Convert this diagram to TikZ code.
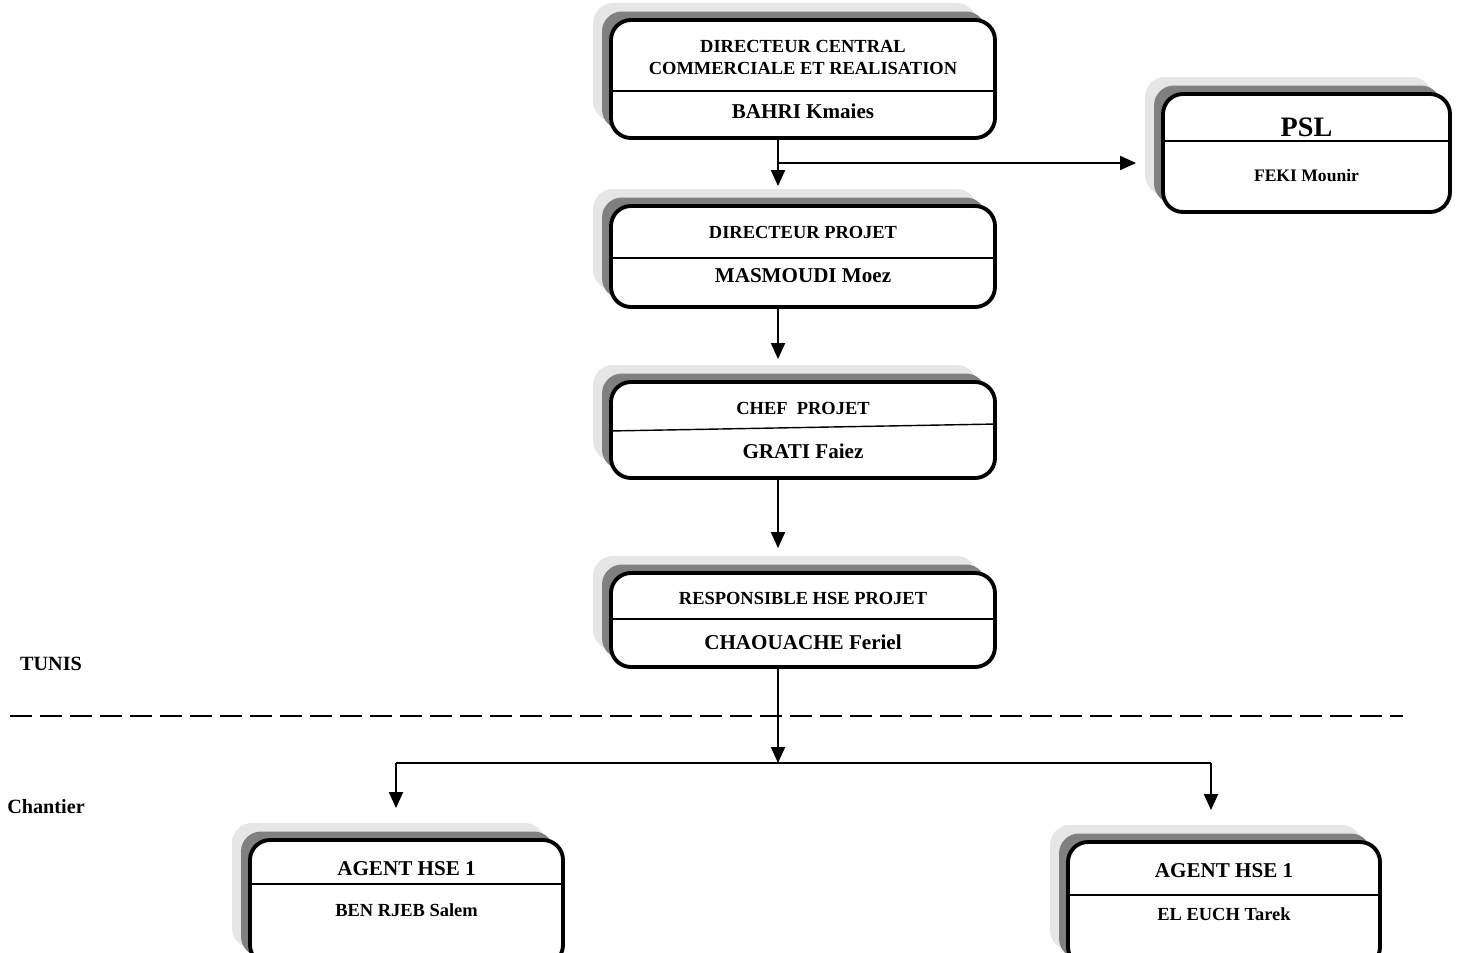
\documentclass[tikz,border=0pt]{standalone}
\usepackage{fontspec}
\setmainfont{Liberation Serif}
\usetikzlibrary{arrows.meta,shadows}
\definecolor{shdark}{HTML}{808080}
\definecolor{shlight}{HTML}{E6E6E6}
\tikzset{
  orgbox/.style={draw,line width=2.2pt,rounded corners=0.4cm,fill=white,inner sep=0pt,
    general shadow={fill=shlight,draw=none,shadow xshift=-0.36cm,shadow yshift=0.34cm},
    general shadow={fill=shdark,draw=none,shadow xshift=-0.18cm,shadow yshift=0.17cm}},
  divline/.style={line width=0.8pt},
  boxtitle/.style={font=\bfseries\fontsize{10.5}{12.5}\selectfont,align=center,inner sep=0pt},
  boxname/.style={font=\bfseries\fontsize{12}{14}\selectfont,inner sep=0pt},
  linkline/.style={line width=1.1pt},
  link/.style={linkline,-{Triangle[width=0.28cm,length=0.32cm]}},
}

\begin{document}
\begin{tikzpicture}[site/.style={font=\bfseries\fontsize{11.5}{13}\selectfont,inner sep=0pt}]
    \useasboundingbox (0,0) rectangle (29.14,-19.04);
    % directeur central
    \node[orgbox,minimum width=7.68cm,minimum height=2.36cm] (dirc) at (16.06,-1.58) {};
    \draw[divline] (dirc.west |- 0,-1.82) -- (dirc.east |- 0,-1.82);
    \node[boxtitle] (dirctitle) at (16.06,-1.14) {DIRECTEUR CENTRAL\\COMMERCIALE ET REALISATION};
    \node[boxname] (dircname) at (16.06,-2.22) {BAHRI Kmaies};
    % PSL
    \node[orgbox,minimum width=5.74cm,minimum height=2.36cm] (psl) at (26.13,-3.06) {};
    \draw[divline] (psl.west |- 0,-2.82) -- (psl.east |- 0,-2.82);
    \node[boxtitle,font=\bfseries\fontsize{16}{18}\selectfont] (psltitle) at (26.13,-2.54) {PSL};
    \node[boxname,font=\bfseries\fontsize{10}{12}\selectfont] (pslname) at (26.13,-3.52) {FEKI Mounir};
    % directeur projet
    \node[orgbox,minimum width=7.68cm,minimum height=2.02cm] (dirp) at (16.06,-5.13) {};
    \draw[divline] (dirp.west |- 0,-5.16) -- (dirp.east |- 0,-5.16);
    \node[boxtitle] (dirptitle) at (16.06,-4.64) {DIRECTEUR PROJET};
    \node[boxname] (dirpname) at (16.06,-5.52) {MASMOUDI Moez};
    % chef projet
    \node[orgbox,minimum width=7.68cm,minimum height=1.92cm] (chef) at (16.06,-8.6) {};
    \draw[divline] (chef.west |- 0,-8.62) -- (chef.east |- 0,-8.48);
    \node[boxtitle] (cheftitle) at (16.06,-8.16) {CHEF\ \ PROJET};
    \node[boxname] (chefname) at (16.06,-9.02) {GRATI Faiez};
    % responsable HSE
    \node[orgbox,minimum width=7.68cm,minimum height=1.88cm] (resp) at (16.06,-12.4) {};
    \draw[divline] (resp.west |- 0,-12.38) -- (resp.east |- 0,-12.38);
    \node[boxtitle] (resptitle) at (16.06,-11.96) {RESPONSIBLE HSE PROJET};
    \node[boxname] (respname) at (16.06,-12.84) {CHAOUACHE Feriel};
    % agents chantier
    \node[orgbox,minimum width=6.26cm,minimum height=2.5cm] (agl) at (8.13,-18.05) {};
    \draw[divline] (agl.west |- 0,-17.68) -- (agl.east |- 0,-17.68);
    \node[boxname] (agltitle) at (8.13,-17.38) {AGENT HSE 1};
    \node[boxname,font=\bfseries\fontsize{10.5}{12}\selectfont] (aglname) at (8.13,-18.2) {BEN RJEB Salem};
    \node[orgbox,minimum width=6.24cm,minimum height=2.5cm] (agr) at (24.48,-18.09) {};
    \draw[divline] (agr.west |- 0,-17.9) -- (agr.east |- 0,-17.9);
    \node[boxname] (agrtitle) at (24.48,-17.42) {AGENT HSE 1};
    \node[boxname,font=\bfseries\fontsize{10.5}{12}\selectfont] (agrname) at (24.48,-18.28) {EL EUCH Tarek};
    % sites
    \node[site] (tunis) at (1.02,-13.28) {TUNIS};
    \node[site] (chantier) at (0.92,-16.14) {Chantier};
    \coordinate (sepl) at (0.2,-14.32);
    \coordinate (sepr) at (28.06,-14.32);
    \draw[line width=1.5pt,dash pattern=on 0.44cm off 0.16cm] (sepl) -- (sepr);
    % liaisons
    \coordinate (spine) at (15.56,0);
    \coordinate (brpsl) at (15.56,-3.26);
    \coordinate (split) at (15.56,-15.26);
    \coordinate (lft) at (7.92,-15.26);
    \coordinate (rgt) at (24.22,-15.26);
    \draw[link,shorten >=0.36cm] (dirc.south -| spine) -- (dirp.north -| spine);
    \draw[link,shorten >=0.5cm] (brpsl) -- (psl.west |- brpsl);
    \draw[link,shorten >=0.42cm] (dirp.south -| spine) -- (chef.north -| spine);
    \draw[link,shorten >=0.46cm] (chef.south -| spine) -- (resp.north -| spine);
    \draw[link] (resp.south -| spine) -- (split);
    \draw[linkline] (lft) -- (rgt);
    \draw[link,shorten >=0.6cm] (lft) -- (agl.north -| lft);
    \draw[link,shorten >=0.6cm] (rgt) -- (agr.north -| rgt);
\end{tikzpicture}
\end{document}
